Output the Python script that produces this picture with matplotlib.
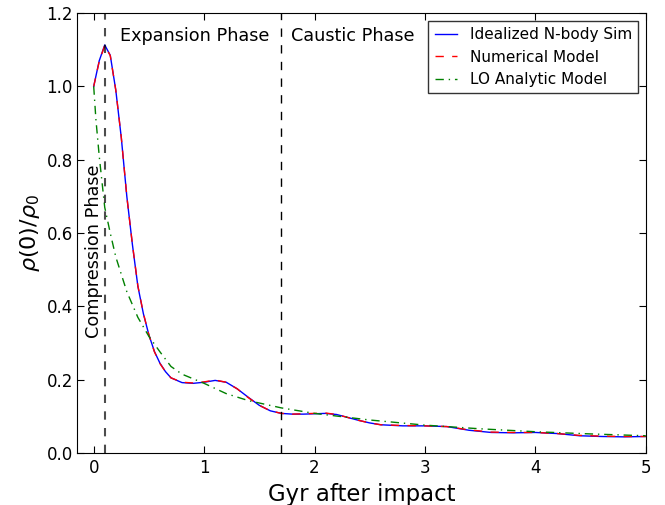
import numpy as np
import matplotlib
matplotlib.use("Agg")
import matplotlib.pyplot as plt

plt.rcParams['lines.dashed_pattern'] = [6, 6]
plt.rcParams['lines.dashdot_pattern'] = [6, 3.5, 1, 3.5]
plt.rcParams['lines.scale_dashes'] = False

# Idealized N-body simulation
t_sim = [0, 0.05, 0.1, 0.15, 0.2, 0.25, 0.3, 0.35, 0.4, 0.45, 0.5, 0.55, 0.6,
         0.65, 0.7, 0.8, 0.9, 1.0, 1.1, 1.2, 1.3, 1.4, 1.5, 1.6, 1.7, 1.8, 1.9,
         2.0, 2.1, 2.2, 2.3, 2.4, 2.5, 2.6, 2.8, 3.0, 3.2, 3.4, 3.6, 3.8, 4.0,
         4.2, 4.4, 4.6, 4.8, 5.0]
rho_sim = [1.0, 1.07, 1.113, 1.085, 0.99, 0.86, 0.70, 0.57, 0.455, 0.38, 0.322,
           0.277, 0.245, 0.222, 0.205, 0.192, 0.19, 0.193, 0.198, 0.193, 0.175,
           0.152, 0.13, 0.115, 0.108, 0.106, 0.106, 0.107, 0.108, 0.105, 0.097,
           0.089, 0.082, 0.077, 0.074, 0.074, 0.072, 0.062, 0.056, 0.055, 0.056,
           0.053, 0.047, 0.045, 0.044, 0.045]

# Numerical model
t_num = t_sim
rho_num = [1.0, 1.068, 1.112, 1.084, 0.99, 0.861, 0.70, 0.571, 0.456, 0.381,
           0.322, 0.276, 0.244, 0.222, 0.205, 0.193, 0.191, 0.194, 0.199, 0.193,
           0.175, 0.151, 0.13, 0.115, 0.108, 0.106, 0.107, 0.108, 0.109, 0.105,
           0.097, 0.089, 0.082, 0.077, 0.075, 0.074, 0.072, 0.063, 0.057, 0.056,
           0.056, 0.053, 0.048, 0.046, 0.045, 0.045]

# LO analytic model
t_lo = [0, 0.02, 0.05, 0.1, 0.15, 0.2, 0.3, 0.4, 0.5, 0.6, 0.7, 0.8, 1.0, 1.2,
        1.4, 1.7, 2.0, 2.5, 3.0, 3.5, 4.0, 4.5, 5.0]
rho_lo = [1.0, 0.91, 0.81, 0.67, 0.6, 0.535, 0.44, 0.37, 0.318, 0.276, 0.236,
          0.215, 0.19, 0.162, 0.143, 0.123, 0.108, 0.09, 0.076, 0.066, 0.058,
          0.052, 0.047]

phase_lines = [0.1, 1.7]

fig = plt.figure(figsize=(6.65, 5.05), dpi=100)
ax = fig.add_axes([0.116, 0.103, 0.855, 0.871])

ax.plot(t_sim, rho_sim, 'b-', lw=1, label='Idealized N-body Sim')
ax.plot(t_num, rho_num, 'r--', lw=1, label='Numerical Model')
ax.plot(t_lo, rho_lo, 'g-.', lw=1, label='LO Analytic Model')

ax.axvline(phase_lines[0], color='k', ls='--', lw=1.5, alpha=0.7)
ax.axvline(phase_lines[1], color='k', ls='--', lw=1)

ax.text(0.24, 1.138, 'Expansion Phase', fontsize=12.7, va='center')
ax.text(1.79, 1.138, 'Caustic Phase', fontsize=12.7, va='center')
ax.text(0.0, 0.55, 'Compression Phase', fontsize=12.7, rotation=90,
        ha='center', va='center')

ax.set_xlim(-0.15, 5)
ax.set_ylim(0, 1.2)
ax.set_xticks([0, 1, 2, 3, 4, 5])
ax.set_yticks([0.0, 0.2, 0.4, 0.6, 0.8, 1.0, 1.2])
ax.tick_params(direction='in', top=True, right=True, labelsize=12, length=5)
ax.tick_params(axis='x', pad=4)
ax.tick_params(axis='y', pad=3)
ax.set_xlabel('Gyr after impact', fontsize=16.4, labelpad=5)
ax.set_ylabel(r'$\rho(0)/\rho_0$', fontsize=16, labelpad=3)

leg = ax.legend(loc='upper right', fontsize=11, fancybox=False,
                borderaxespad=0.5, handlelength=1.5)
leg.get_frame().set_edgecolor('k')

fig.savefig('out.png', dpi=100)
